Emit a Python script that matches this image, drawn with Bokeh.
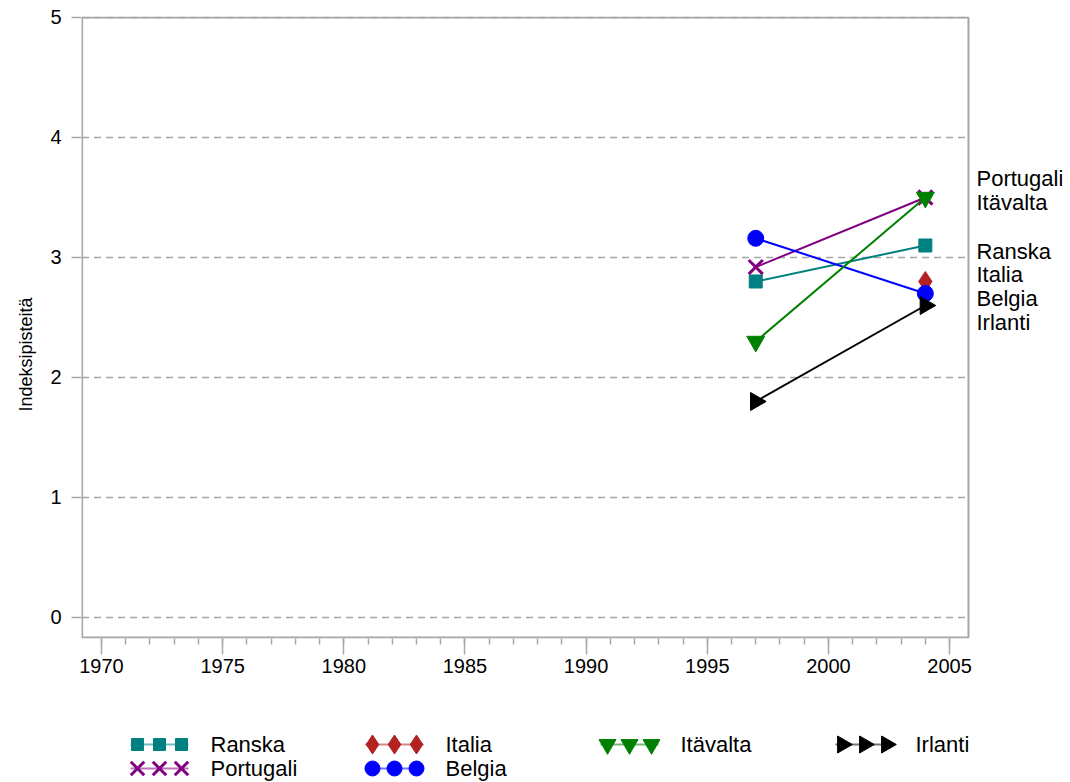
import math
from bokeh.plotting import figure
from bokeh.layouts import column
from bokeh.models import Range1d, FixedTicker, ColumnDataSource, Title
from bokeh.core.properties import value
from bokeh.embed import file_html
from bokeh.resources import INLINE

# ---------------- data ----------------
years = [1997, 2004]
series_names = ["Ranska", "Portugali", "Italia", "Belgia", "Itävalta", "Irlanti"]
ranska = [2.8, 3.1]
portugali = [2.92, 3.5]
italia = [float("nan"), 2.8]
belgia = [3.16, 2.7]
itavalta = [2.3, 3.5]
irlanti = [1.8, 2.6]
y_ticks = [0, 1, 2, 3, 4, 5]
x_ticks = [1970, 1975, 1980, 1985, 1990, 1995, 2000, 2005]
x_minor_ticks = list(range(1970, 2006))
y_title = "Indeksipisteitä"

# ---------------- styles / layout ----------------
FONT = "Liberation Sans"
GRAY = "#a6a6a6"
styles = {
    "Ranska":    dict(color="#008080", marker="square", size=13, angle=0.0, lw=1),
    "Portugali": dict(color="#800080", marker="x", size=20, angle=0.0, lw=3),
    "Italia":    dict(color="#b22222", marker="diamond", size=20, angle=0.0, lw=1),
    "Belgia":    dict(color="#0000ff", marker="circle", size=16, angle=0.0, lw=1),
    "Itävalta":  dict(color="#008000", marker="inverted_triangle", size=18, angle=0.0, lw=1),
    "Irlanti":   dict(color="#000000", marker="triangle", size=18, angle=-math.pi / 2, lw=1),
}
values = {
    "Ranska": ranska, "Portugali": portugali, "Italia": italia,
    "Belgia": belgia, "Itävalta": itavalta, "Irlanti": irlanti,
}
# end-label order and vertical placement (repelled label positions)
end_label_order = ["Portugali", "Itävalta", "Ranska", "Italia", "Belgia", "Irlanti"]
end_label_y = [3.66, 3.46, 3.05, 2.86, 2.66, 2.46]

# plot box (visible frame) limits in data units
box_left, box_right, box_bottom, box_top = 1969.2, 2005.78, -0.167, 5.0

W = 1066
p = figure(width=W, height=705, output_backend="svg", toolbar_location=None,
           x_range=Range1d(1969.1746, 2009.66), y_range=Range1d(-0.175, 5.0083),
           min_border_left=81, min_border_top=16, min_border_bottom=67, min_border_right=4)
p.outline_line_color = None
p.background_fill_color = "white"
p.border_fill_color = "white"
p.grid.visible = False

p.yaxis.ticker = FixedTicker(ticks=y_ticks)
p.xaxis.ticker = FixedTicker(ticks=x_ticks, minor_ticks=x_minor_ticks)

for ax in (p.xaxis[0], p.yaxis[0]):
    ax.axis_line_color = None
    ax.major_tick_line_color = GRAY
    ax.major_tick_line_width = 1.5
    ax.minor_tick_line_color = GRAY
    ax.minor_tick_line_width = 1.5
    ax.major_tick_in = 0
    ax.minor_tick_in = 0
    ax.major_label_text_font = FONT
    ax.major_label_text_font_size = "20px"
    ax.major_label_text_color = "black"

p.xaxis.major_tick_out = 16
p.xaxis.minor_tick_out = 6
p.xaxis.major_label_standoff = 4
p.yaxis.major_tick_out = 10
p.yaxis.minor_tick_line_color = None
p.yaxis.major_label_standoff = 10

# y-axis title, placed a little below the frame centre as in the reference
p.add_layout(Title(text=y_title, align="left", offset=227, text_font=FONT,
                   text_font_size="18px", text_font_style="normal", text_color="black",
                   standoff=23), "left")

# dashed horizontal grid lines inside the box
p.segment(x0=[box_left] * len(y_ticks), x1=[box_right] * len(y_ticks), y0=y_ticks, y1=y_ticks,
          line_color=GRAY, line_width=1.5, line_dash="7 5")
# plot box
p.quad(left=[box_left], right=[box_right], bottom=[box_bottom], top=[box_top],
       fill_color=None, line_color=GRAY, line_width=2)

for name in series_names:
    st = styles[name]
    src = ColumnDataSource(dict(x=years, y=values[name]))
    p.line("x", "y", source=src, line_color=st["color"], line_width=2)
    p.scatter("x", "y", source=src, marker=st["marker"], size=st["size"], angle=st["angle"],
              fill_color=st["color"], line_color=st["color"], line_width=st["lw"])

p.text(x=[box_right] * len(end_label_order), y=end_label_y, text=end_label_order,
       x_offset=8, text_font=value(FONT), text_font_size="22px",
       text_baseline="middle", text_align="left", text_color="black")

# ---------------- legend strip below (pixel coordinates) ----------------
leg = figure(width=W, height=77, output_backend="svg", toolbar_location=None,
             x_range=Range1d(81, 1062), y_range=Range1d(782, 705),
             min_border_left=81, min_border_right=4, min_border_top=0, min_border_bottom=0)
leg.axis.visible = False
leg.grid.visible = False
leg.outline_line_color = None
leg.background_fill_color = "white"
leg.border_fill_color = "white"

legend_slots = {"Ranska": (0, 0), "Portugali": (0, 1), "Italia": (1, 0),
                "Belgia": (1, 1), "Itävalta": (2, 0), "Irlanti": (3, 0)}
col_x0, col_step, row_y0, row_step = 130, 235, 744, 24
for name in series_names:
    st = styles[name]
    c, r = legend_slots[name]
    x0 = col_x0 + c * col_step
    yy = row_y0 + r * row_step
    mx = [x0 + 7, x0 + 29, x0 + 51]
    leg.line([x0, x0 + 58], [yy, yy], line_color=st["color"], line_width=2, line_alpha=0.55)
    leg.scatter(mx, [yy] * 3, marker=st["marker"], size=st["size"] - 1, angle=st["angle"],
                fill_color=st["color"], line_color=st["color"], line_width=st["lw"])
    leg.text([x0 + 80], [yy], text=[name], text_font=value(FONT), text_font_size="22px",
             text_baseline="middle", text_align="left", text_color="black")

layout = column(p, leg, spacing=0)
open("out.html", "w").write(file_html(layout, INLINE))
